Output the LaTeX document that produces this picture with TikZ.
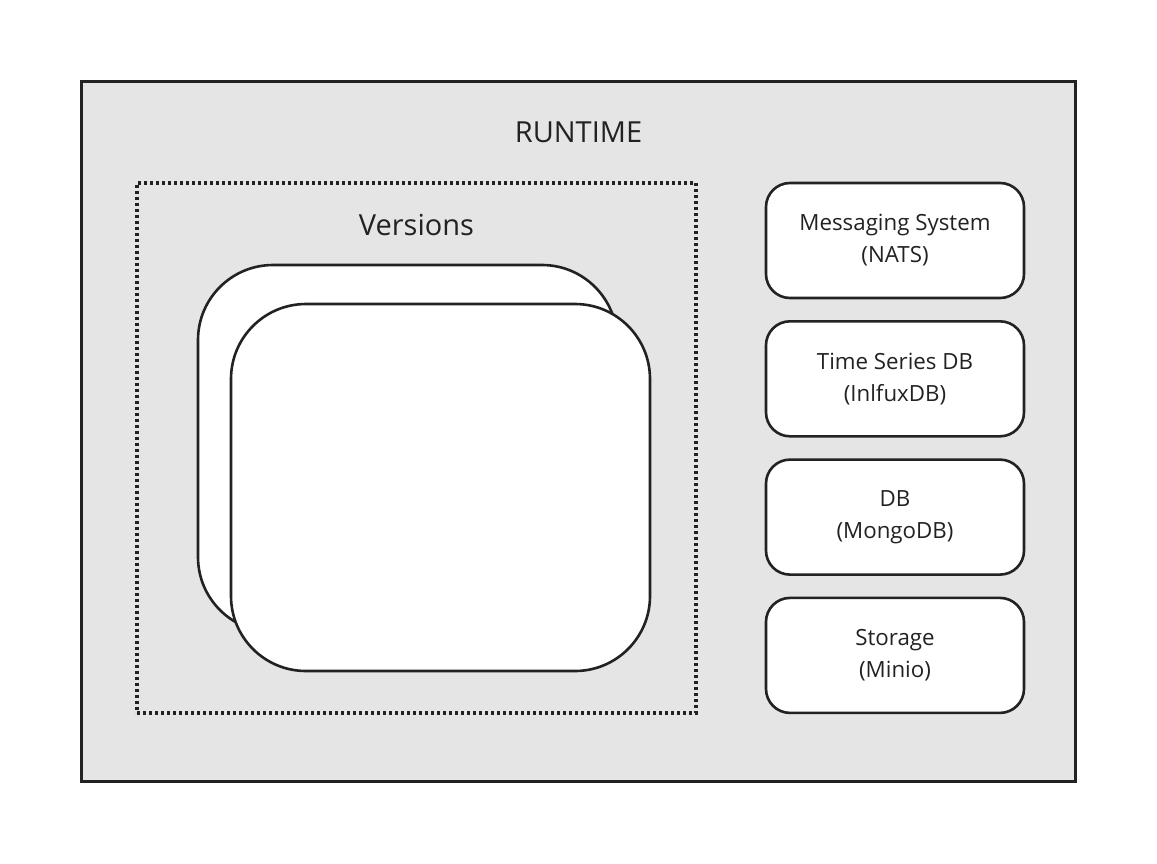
\documentclass[tikz,border=0pt]{standalone}
\usepackage{fontspec}
\setmainfont{Open Sans}
\usetikzlibrary{positioning}
\definecolor{runtimegray}{HTML}{E5E5E5}
\definecolor{edgeblack}{HTML}{222222}

\begin{document}
\begin{tikzpicture}[x=1pt,y=-1pt,line width=2.6pt,node distance=138.3pt,on grid,
      service/.style={draw=edgeblack,fill=white,rounded corners=24pt,minimum width=258pt,
        minimum height=115pt,align=center,font=\fontsize{22.3}{32}\selectfont},
      version/.style={draw=edgeblack,fill=white,rounded corners=75pt,minimum width=419pt,
        minimum height=367pt}]
			\useasboundingbox (0,0) rectangle (1157,863);
			\node[draw=edgeblack,fill=runtimegray,minimum width=994pt,minimum height=700pt] (runtime) at (578.5,431.5) {};
			\node[font=\fontsize{29}{34}\selectfont,text=edgeblack] (runtimelbl) at (578.5,132) {RUNTIME};
			\node[draw=edgeblack,line width=3.2pt,dash pattern=on 3pt off 3pt,minimum width=559pt,minimum height=530pt] (versions) at (416.5,448) {};
			\node[font=\fontsize{29}{34}\selectfont,text=edgeblack] (versionslbl) at (416.5,225) {Versions};
			\node[version] (backver) at (407.5,448.5) {};
			\node[version] (frontver) at (440.5,487.5) {};
			\node[service,text=edgeblack] (nats) at (895,240.5) {Messaging System\\(NATS)};
			\node[service,text=edgeblack] (influx) [below=of nats] {Time Series DB\\(InlfuxDB)};
			\node[service,text=edgeblack] (mongo) [below=of influx] {DB\\(MongoDB)};
			\node[service,text=edgeblack] (minio) [below=of mongo] {Storage\\(Minio)};
		\end{tikzpicture}
\end{document}
